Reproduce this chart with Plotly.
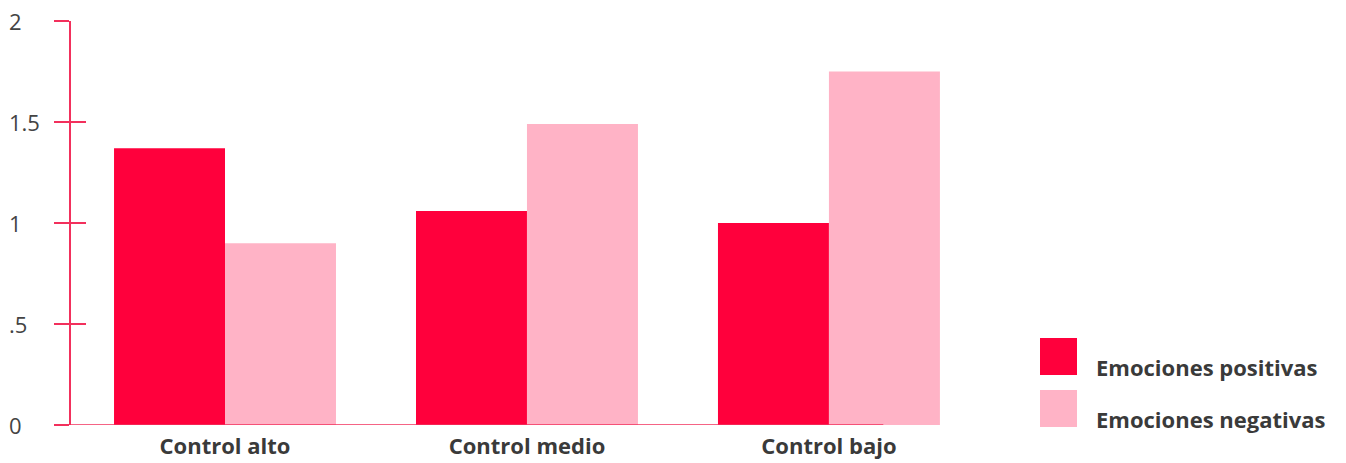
import plotly.graph_objects as go

categories = ["Control alto", "Control medio", "Control bajo"]
positivas = [1.37, 1.06, 1.00]
negativas = [0.90, 1.49, 1.75]
series_names = ["Emociones positivas", "Emociones negativas"]
y_tickvals = [0, 0.5, 1, 1.5, 2]
y_ticktext = ["0", ".5", "1", "1.5", "2"]

RED = "#FF003C"
PINK = "#FFB3C6"
AXIS = "#F2305C"
TEXT = "#3A3A3A"
FONT = "Open Sans"

W, H = 1346, 463
L, T, R, B = 71, 21, 386, 38
pw = W - L - R
ph = H - T - B

def px(x):
    return (x - L) / pw

def py(y):
    return (H - B - y) / ph

fig = go.Figure()
fig.add_trace(go.Bar(x=categories, y=positivas, name=series_names[0],
                     marker=dict(color=RED, line=dict(width=0)), showlegend=False))
fig.add_trace(go.Bar(x=categories, y=negativas, name=series_names[1],
                     marker=dict(color=PINK, line=dict(width=0)), showlegend=False))
# empty trace to carry the overlaid axis that draws the inner half of the ticks
fig.add_trace(go.Scatter(x=[None], y=[None], yaxis="y2", showlegend=False, hoverinfo="skip"))

fig.update_layout(
    width=W, height=H, autosize=False,
    margin=dict(l=L, r=R, t=T, b=B, autoexpand=False),
    paper_bgcolor="white",
    plot_bgcolor="white",
    barmode="group",
    bargap=0.265,
    bargroupgap=0,
    font=dict(family=FONT, color=TEXT),
    xaxis=dict(
        range=[-0.51, 2.434], automargin=False,
        showline=False, showgrid=False, zeroline=False,
        ticks="", tickfont=dict(size=22, family=FONT, color=TEXT, weight="bold"),
        ticklabelstandoff=6,
    ),
    yaxis=dict(
        range=[0, 2], tickvals=y_tickvals, ticktext=y_ticktext,
        showticklabels=False, automargin=False,
        showline=True, linecolor=AXIS, linewidth=1.5,
        ticks="outside", ticklen=15, tickcolor=AXIS, tickwidth=1.5,
        showgrid=False, zeroline=False,
    ),
    yaxis2=dict(
        range=[0, 2], tickvals=y_tickvals, overlaying="y", side="left",
        showticklabels=False, showline=False, automargin=False,
        ticks="inside", ticklen=15, tickcolor=AXIS, tickwidth=1.5,
        showgrid=False, zeroline=False,
    ),
    hovermode=False,
)

# x axis baseline (shorter than the plot, as in the original)
fig.add_shape(type="line", xref="x", yref="y", x0=-0.51, x1=2.18, y0=0, y1=0,
              line=dict(color=AXIS, width=1.5), layer="above")

# y tick labels, left aligned
annotations = []
for v, t in zip(y_tickvals, y_ticktext):
    annotations.append(dict(x=0, xref="paper", xshift=-64, xanchor="left",
                            y=v, yref="y", yanchor="middle", text=t, showarrow=False,
                            font=dict(size=22, family=FONT, color="#444444")))

# custom legend
legend_items = [(series_names[0], RED, 338, 367), (series_names[1], PINK, 390, 419)]
for name, col, ytop, ytext in legend_items:
    fig.add_shape(type="rect", xref="paper", yref="paper",
                  x0=px(1040), x1=px(1077), y0=py(ytop + 37), y1=py(ytop),
                  fillcolor=col, line=dict(width=0))
    annotations.append(dict(x=px(1094), xref="paper", xanchor="left",
                            y=py(ytext), yref="paper", yanchor="middle",
                            text=name, showarrow=False,
                            font=dict(size=22, family=FONT, color=TEXT, weight="bold")))

fig.update_layout(annotations=annotations)

fig.write_html(
    "out.html",
    config={"displayModeBar": False},
    post_script="document.body.style.margin='0';document.body.style.overflow='hidden';",
)
